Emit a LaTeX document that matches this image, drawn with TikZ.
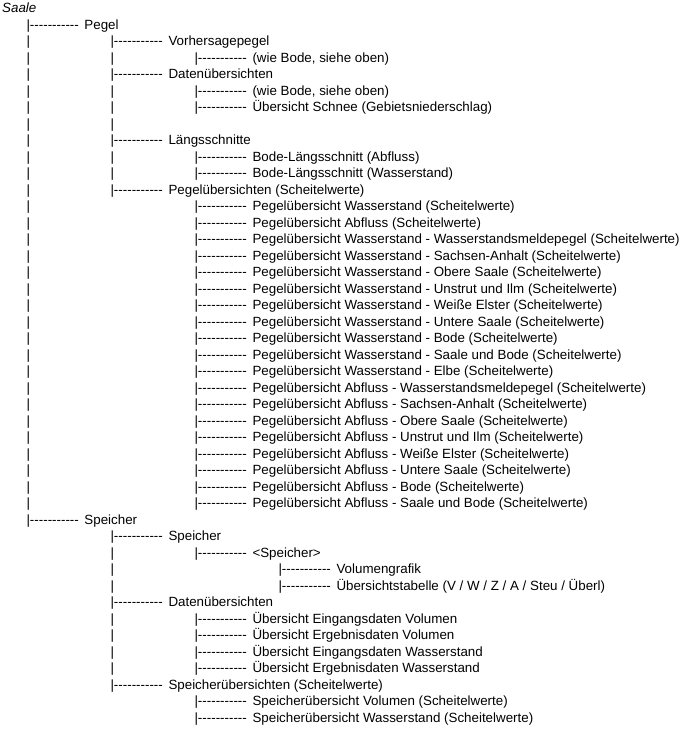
\documentclass[tikz,border=0pt]{standalone}
\usepackage{fontspec}
\setmainfont{Liberation Sans}[Ligatures=TeXOff]

% Spalten des Baums
\newcommand{\stamm}{\makebox[84pt][l]{|}}
\newcommand{\leer}{\hspace*{84pt}}
\newcommand{\zweig}{\makebox[58pt][l]{|-----------}}

\tikzset{zeile/.style={anchor=base west, inner sep=0pt, font=\fontsize{13.35pt}{16.5pt}\selectfont}}

\begin{document}
\begin{tikzpicture}[x=1pt, y=-16.5pt]
    \useasboundingbox (0,-0.77) rectangle (685,43.47);

    \node[zeile, font=\fontsize{13.35pt}{16.5pt}\selectfont\itshape] (saale) at (2,0) {Saale};

    % Pegel
    \node[zeile] (pegel) at (26.3,1) {\zweig Pegel};
    \node[zeile] (vorhersage) at (26.3,2) {\stamm\zweig Vorhersagepegel};
    \node[zeile] (vorhersage1) at (26.3,3) {\stamm\stamm\zweig (wie Bode, siehe oben)};
    \node[zeile] (daten) at (26.3,4) {\stamm\zweig Datenübersichten};
    \node[zeile] (daten1) at (26.3,5) {\stamm\stamm\zweig (wie Bode, siehe oben)};
    \node[zeile] (daten2) at (26.3,6) {\stamm\stamm\zweig Übersicht Schnee (Gebietsniederschlag)};
    \node[zeile] (leerzeile) at (26.3,7) {\stamm\stamm};
    \node[zeile] (laengs) at (26.3,8) {\stamm\zweig Längsschnitte};
    \node[zeile] (laengs1) at (26.3,9) {\stamm\stamm\zweig Bode-Längsschnitt (Abfluss)};
    \node[zeile] (laengs2) at (26.3,10) {\stamm\stamm\zweig Bode-Längsschnitt (Wasserstand)};
    \node[zeile] (uebersicht) at (26.3,11) {\stamm\zweig Pegelübersichten (Scheitelwerte)};

    % Pegeluebersichten
    \node[zeile] (ue1) at (26.3,12) {\stamm\leer\zweig Pegelübersicht Wasserstand (Scheitelwerte)};
    \node[zeile] (ue2) at (26.3,13) {\stamm\leer\zweig Pegelübersicht Abfluss (Scheitelwerte)};
    \node[zeile] (ue3) at (26.3,14) {\stamm\leer\zweig Pegelübersicht Wasserstand - Wasserstandsmeldepegel (Scheitelwerte)};
    \node[zeile] (ue4) at (26.3,15) {\stamm\leer\zweig Pegelübersicht Wasserstand - Sachsen-Anhalt (Scheitelwerte)};
    \node[zeile] (ue5) at (26.3,16) {\stamm\leer\zweig Pegelübersicht Wasserstand - Obere Saale (Scheitelwerte)};
    \node[zeile] (ue6) at (26.3,17) {\stamm\leer\zweig Pegelübersicht Wasserstand - Unstrut und Ilm (Scheitelwerte)};
    \node[zeile] (ue7) at (26.3,18) {\stamm\leer\zweig Pegelübersicht Wasserstand - Weiße Elster (Scheitelwerte)};
    \node[zeile] (ue8) at (26.3,19) {\stamm\leer\zweig Pegelübersicht Wasserstand - Untere Saale (Scheitelwerte)};
    \node[zeile] (ue9) at (26.3,20) {\stamm\leer\zweig Pegelübersicht Wasserstand - Bode (Scheitelwerte)};
    \node[zeile] (ue10) at (26.3,21) {\stamm\leer\zweig Pegelübersicht Wasserstand - Saale und Bode (Scheitelwerte)};
    \node[zeile] (ue11) at (26.3,22) {\stamm\leer\zweig Pegelübersicht Wasserstand - Elbe (Scheitelwerte)};
    \node[zeile] (ue12) at (26.3,23) {\stamm\leer\zweig Pegelübersicht Abfluss - Wasserstandsmeldepegel (Scheitelwerte)};
    \node[zeile] (ue13) at (26.3,24) {\stamm\leer\zweig Pegelübersicht Abfluss - Sachsen-Anhalt (Scheitelwerte)};
    \node[zeile] (ue14) at (26.3,25) {\stamm\leer\zweig Pegelübersicht Abfluss - Obere Saale (Scheitelwerte)};
    \node[zeile] (ue15) at (26.3,26) {\stamm\leer\zweig Pegelübersicht Abfluss - Unstrut und Ilm (Scheitelwerte)};
    \node[zeile] (ue16) at (26.3,27) {\stamm\leer\zweig Pegelübersicht Abfluss - Weiße Elster (Scheitelwerte)};
    \node[zeile] (ue17) at (26.3,28) {\stamm\leer\zweig Pegelübersicht Abfluss - Untere Saale (Scheitelwerte)};
    \node[zeile] (ue18) at (26.3,29) {\stamm\leer\zweig Pegelübersicht Abfluss - Bode (Scheitelwerte)};
    \node[zeile] (ue19) at (26.3,30) {\stamm\leer\zweig Pegelübersicht Abfluss - Saale und Bode (Scheitelwerte)};

    % Speicher
    \node[zeile] (speicher) at (26.3,31) {\zweig Speicher};
    \node[zeile] (sp) at (26.3,32) {\leer\zweig Speicher};
    \node[zeile] (sp1) at (26.3,33) {\leer\stamm\zweig <Speicher>};
    \node[zeile] (sp11) at (26.3,34) {\leer\stamm\leer\zweig Volumengrafik};
    \node[zeile] (sp12) at (26.3,35) {\leer\stamm\leer\zweig Übersichtstabelle (V / W / Z / A / Steu / Überl)};
    \node[zeile] (spdaten) at (26.3,36) {\leer\zweig Datenübersichten};
    \node[zeile] (spdaten1) at (26.3,37) {\leer\stamm\zweig Übersicht Eingangsdaten Volumen};
    \node[zeile] (spdaten2) at (26.3,38) {\leer\stamm\zweig Übersicht Ergebnisdaten Volumen};
    \node[zeile] (spdaten3) at (26.3,39) {\leer\stamm\zweig Übersicht Eingangsdaten Wasserstand};
    \node[zeile] (spdaten4) at (26.3,40) {\leer\stamm\zweig Übersicht Ergebnisdaten Wasserstand};
    \node[zeile] (spue) at (26.3,41) {\leer\zweig Speicherübersichten (Scheitelwerte)};
    \node[zeile] (spue1) at (26.3,42) {\leer\leer\zweig Speicherübersicht Volumen (Scheitelwerte)};
    \node[zeile] (spue2) at (26.3,43) {\leer\leer\zweig Speicherübersicht Wasserstand (Scheitelwerte)};

\end{tikzpicture}
\end{document}
